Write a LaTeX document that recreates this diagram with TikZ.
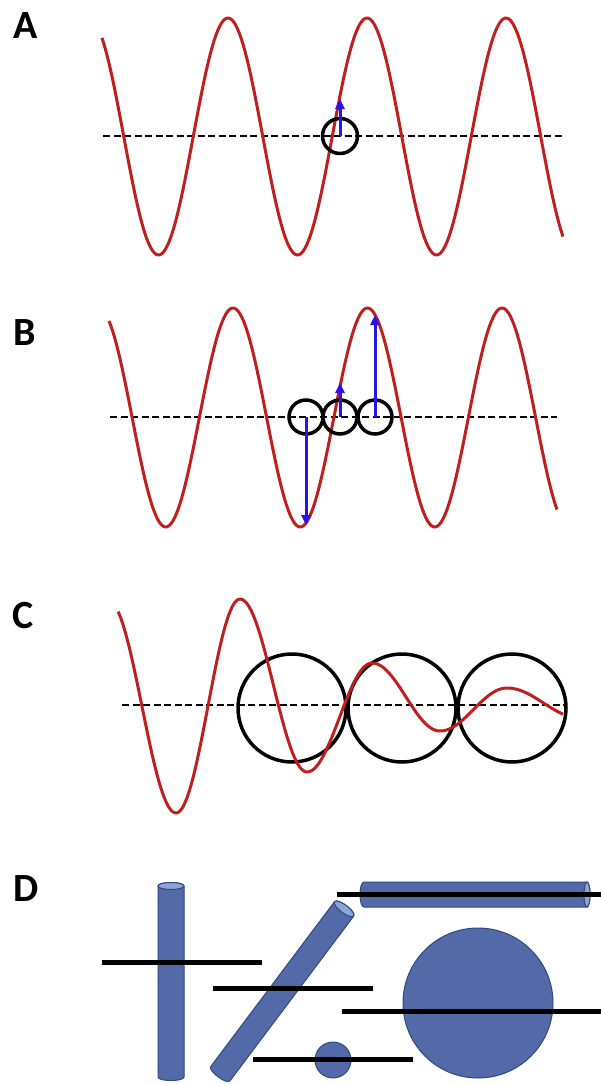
\documentclass[tikz,border=0pt]{standalone}
\usepackage{fontspec}
\newfontfamily\labelfont{Carlito}
\usetikzlibrary{arrows.meta}
\definecolor{wavered}{RGB}{190,32,32}
\definecolor{arrowblue}{RGB}{40,20,230}
\definecolor{cylfill}{RGB}{84,106,168}
\definecolor{cylline}{RGB}{47,72,128}
\definecolor{cyllight}{RGB}{143,163,214}
\tikzset{
  wave/.style={draw=wavered,line width=3pt,line join=round},
  axisline/.style={draw=black,line width=2.8pt,dash pattern=on 7pt off 3.5pt},
  ring/.style={draw=black,line width=3.5pt},
  amp/.style={draw=arrowblue,line width=3pt,-{Triangle[length=10pt,width=9pt]}},
  cyl/.style={fill=cylfill,draw=cylline,line width=1pt},
  cylend/.style={fill=cyllight,draw=cylline,line width=1pt},
  bar/.style={draw=black,line width=5pt},
  panel/.style={font=\labelfont\bfseries\fontsize{40}{40}\selectfont,anchor=base west,inner sep=0pt}
}
\begin{document}
\begin{tikzpicture}[x=1pt,y=-1pt]
\useasboundingbox (0,0) rectangle (601,1084);
% labels
\node[panel] (la) at (13,38) {A};
\node[panel] (lb) at (13,345) {B};
\node[panel] (lc) at (12,628) {C};
\node[panel] (ld) at (13,901) {D};
% ---------- Panel A
\draw[axisline] (103,136) -- (565,136);
\draw[wave] plot[domain=102:563,samples=240,variable=\x] ({\x},{136.5-118.5*cos(2.58993*(\x-228))});
\node[ring,circle,minimum size=35pt,inner sep=0pt] (ca) at (340,136) {};
\coordinate (a0) at (340,136);
\coordinate (a1) at (340,99);
\draw[amp] (a0) -- (a1);
% ---------- Panel B
\draw[axisline] (110,417) -- (557,417);
\draw[wave] plot[domain=109:557,samples=240,variable=\x] ({\x},{417.5-109.5*cos(2.67658*(\x-233))});
\node[ring,circle,minimum size=34pt,inner sep=0pt] (cb1) at (306,417) {};
\node[ring,circle,minimum size=34pt,inner sep=0pt] (cb2) at (340,417) {};
\node[ring,circle,minimum size=34pt,inner sep=0pt] (cb3) at (375,417) {};
\coordinate (b1s) at (306,417);
\coordinate (b1e) at (306,525);
\coordinate (b2s) at (340,417);
\coordinate (b2e) at (340,383);
\coordinate (b3s) at (375,417);
\coordinate (b3e) at (375,315);
\draw[amp] (b1s) -- (b1e);
\draw[amp] (b2s) -- (b2e);
\draw[amp] (b3s) -- (b3e);
% ---------- Panel C
\draw[axisline] (122,705) -- (565,705);
\node[ring,circle,minimum size=108pt,inner sep=0pt] (cc1) at (292,708) {};
\node[ring,circle,minimum size=108pt,inner sep=0pt] (cc2) at (402,708) {};
\node[ring,circle,minimum size=108pt,inner sep=0pt] (cc3) at (512,708) {};
\draw[wave] plot[domain=0.15:1,samples=25,variable=\t] ({108+68*\t},{706.5-106.5*cos(180*\t)})
 -- plot[domain=0:1,samples=30,variable=\t] ({176+64*\t},{706+107*cos(180*\t)})
 -- plot[domain=0:1,samples=30,variable=\t] ({240+67*\t},{685.5-86.5*cos(180*\t)})
 -- plot[domain=0:1,samples=30,variable=\t] ({307+65*\t},{717.5+54.5*cos(180*\t)})
 -- plot[domain=0:1,samples=30,variable=\t] ({372+68*\t},{697-34*cos(180*\t)})
 -- plot[domain=0:1,samples=30,variable=\t] ({440+67*\t},{709.5+21.5*cos(180*\t)})
 -- plot[domain=0:0.767,samples=25,variable=\t] ({507+73*\t},{703-15*cos(180*\t)});
% ---------- Panel D
% vertical cylinder
\draw[cyl] (158,886) -- (158,1077) .. controls (158,1081.7) and (184,1081.7) .. (184,1077)
  -- (184,886) .. controls (184,881.3) and (158,881.3) .. (158,886) -- cycle;
\draw[cylend] (171,886) ellipse [x radius=13, y radius=3.5];
% diagonal cylinder
\begin{scope}[shift={(282.25,991.25)},rotate=-36.9]
\draw[cyl] (-12,-103) -- (-12,103) .. controls (-12,108.3) and (12,108.3) .. (12,103)
  -- (12,-103) .. controls (12,-108.3) and (-12,-108.3) .. (-12,-103) -- cycle;
\draw[cylend] (0,-103) ellipse [x radius=12, y radius=4];
\end{scope}
% horizontal cylinder
\draw[cyl] (364,882) -- (587,882) .. controls (591,882) and (591,907) .. (587,907)
  -- (364,907) .. controls (358.7,907) and (358.7,882) .. (364,882) -- cycle;
\draw[cylend] (587,894.5) ellipse [x radius=3, y radius=12.5];
% spheres
\node[circle,fill=cylfill,draw=cylline,line width=1pt,minimum size=150pt,inner sep=0pt] (big) at (478,1003) {};
\node[circle,fill=cylfill,draw=cylline,line width=1pt,minimum size=36pt,inner sep=0pt] (small) at (333,1060) {};
% bars
\coordinate (p1) at (102,962); \coordinate (q1) at (262,962);
\coordinate (p2) at (213,988); \coordinate (q2) at (373,988);
\coordinate (p3) at (337,894); \coordinate (q3) at (601,894);
\coordinate (p4) at (342,1011); \coordinate (q4) at (601,1011);
\coordinate (p5) at (253,1059); \coordinate (q5) at (413,1059);
\draw[bar] (p1) -- (q1);
\draw[bar] (p2) -- (q2);
\draw[bar] (p3) -- (q3);
\draw[bar] (p4) -- (q4);
\draw[bar] (p5) -- (q5);
\end{tikzpicture}
\end{document}
